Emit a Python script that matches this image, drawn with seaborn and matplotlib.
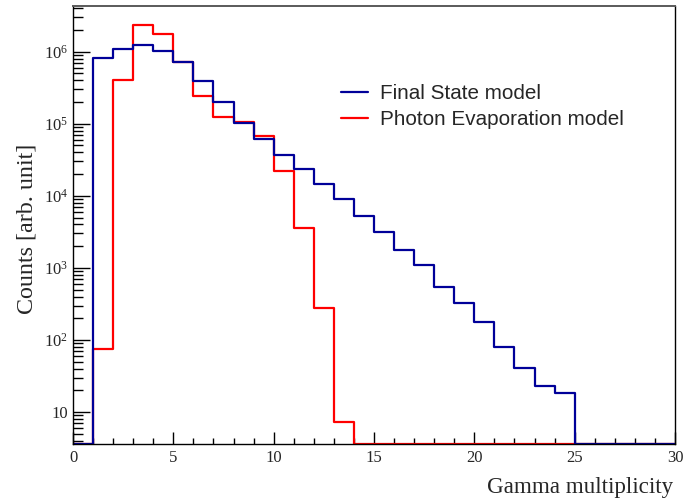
import numpy as np
import pandas as pd
import matplotlib
matplotlib.use("Agg")
import matplotlib.pyplot as plt
from matplotlib.ticker import FixedLocator, FixedFormatter, NullFormatter
from matplotlib.lines import Line2D
import seaborn as sns

# Gamma multiplicity histogram, unit-width bins from 0 to 30
bin_edges = list(range(0, 31))
final_state = [0, 8.26e5, 1.08e6, 1.23e6, 1.03e6, 7.1e5, 3.96e5, 2.03e5, 1.04e5, 6.2e4,
               3.69e4, 2.36e4, 1.45e4, 9.1e3, 5.3e3, 3.18e3, 1.78e3, 1.08e3, 550, 324,
               178, 81, 41, 23.3, 18.2, 0, 0, 0, 0, 0]
photon_evap = [0, 76, 4.05e5, 2.32e6, 1.74e6, 7.2e5, 2.43e5, 1.23e5, 1.05e5, 6.8e4,
               2.24e4, 3.56e3, 276, 7.2, 0, 0, 0, 0, 0, 0,
               0, 0, 0, 0, 0, 0, 0, 0, 0, 0]
series_names = ["Final State model", "Photon Evaporation model"]
series_colors = ["#000099", "#ff0000"]

y_ticks = [10, 1e2, 1e3, 1e4, 1e5, 1e6]
y_ticklabels = ["10", r"$10^{2}$", r"$10^{3}$", r"$10^{4}$", r"$10^{5}$", r"$10^{6}$"]
x_ticks = [0, 5, 10, 15, 20, 25, 30]

sns.set_style("ticks")
plt.rcParams["font.family"] = ["Liberation Serif", "DejaVu Serif"]
plt.rcParams["mathtext.fontset"] = "custom"
plt.rcParams["mathtext.rm"] = "Liberation Serif"
plt.rcParams["mathtext.it"] = "Liberation Serif:italic"
plt.rcParams["mathtext.bf"] = "Liberation Serif:bold"

y_lo, y_hi = 10 ** 0.552, 10 ** 6.638

fig = plt.figure(figsize=(6.83, 5.03), dpi=100)
ax = fig.add_axes([73 / 683, 1 - 444.3 / 503, 602 / 683, 438.6 / 503])

edges = [float(e) for e in bin_edges]
centers = [0.5 * (a + b) for a, b in zip(edges[:-1], edges[1:])]
frames = []
for name, counts in zip(series_names, [final_state, photon_evap]):
    counts = np.asarray(counts, dtype=float)
    # empty bins sit on the lower edge of the log axis
    shown = np.where(counts > 0, counts, y_lo)
    frames.append(pd.DataFrame({"mult": centers, "w": shown, "model": name}))
df = pd.concat(frames, ignore_index=True)

# red first so the blue outline lies on top
for name, color in zip(series_names[::-1], series_colors[::-1]):
    sub = df[df["model"] == name]
    sns.histplot(data=sub, x="mult", weights="w", bins=edges, element="step",
                 fill=False, color=color, linewidth=1.6, ax=ax)

ax.set_yscale("log")
ax.set_xlim(0, 30)
ax.set_ylim(y_lo, y_hi)

ax.yaxis.set_major_locator(FixedLocator(y_ticks))
ax.yaxis.set_major_formatter(FixedFormatter(y_ticklabels))
minor = [m * 10 ** d for d in range(0, 7) for m in range(2, 10)]
minor = [v for v in minor if y_lo <= v <= y_hi]
ax.yaxis.set_minor_locator(FixedLocator(minor))
ax.yaxis.set_minor_formatter(NullFormatter())

ax.xaxis.set_major_locator(FixedLocator(x_ticks))
ax.xaxis.set_minor_locator(FixedLocator(list(range(0, 31))))

ax.tick_params(axis="both", which="both", direction="in", color="black",
               top=False, right=False, width=1.0)
ax.tick_params(axis="y", which="major", length=12.5, pad=3.6, labelsize=12)
ax.tick_params(axis="y", which="minor", length=7)
ax.tick_params(axis="x", which="major", length=8.6, pad=4.2, labelsize=12)
ax.tick_params(axis="x", which="minor", length=4.3)

for side in ["left", "bottom", "right"]:
    ax.spines[side].set_color("black")
    ax.spines[side].set_linewidth(1.0)
ax.spines["top"].set_color("#5a5a5a")
ax.spines["top"].set_linewidth(1.4)

ax.set_xlabel("Gamma multiplicity", fontsize=16.6, ha="right", va="center")
ax.xaxis.set_label_coords(0.997, -0.0974)
ax.set_ylabel("Counts [arb. unit]", fontsize=17.3, ha="center", va="center")
ax.yaxis.set_label_coords(-0.0757, 0.492)

handles = [Line2D([], [], color=c, lw=1.6) for c in series_colors]
ax.legend(handles, series_names, loc="upper left", bbox_to_anchor=(0.446, 0.8215),
          frameon=False, borderpad=0, borderaxespad=0, handlelength=1.3,
          handletextpad=0.55, labelspacing=0.35,
          prop={"family": ["Liberation Sans", "DejaVu Sans"], "size": 14.9})

fig.savefig("out.png", dpi=100)
